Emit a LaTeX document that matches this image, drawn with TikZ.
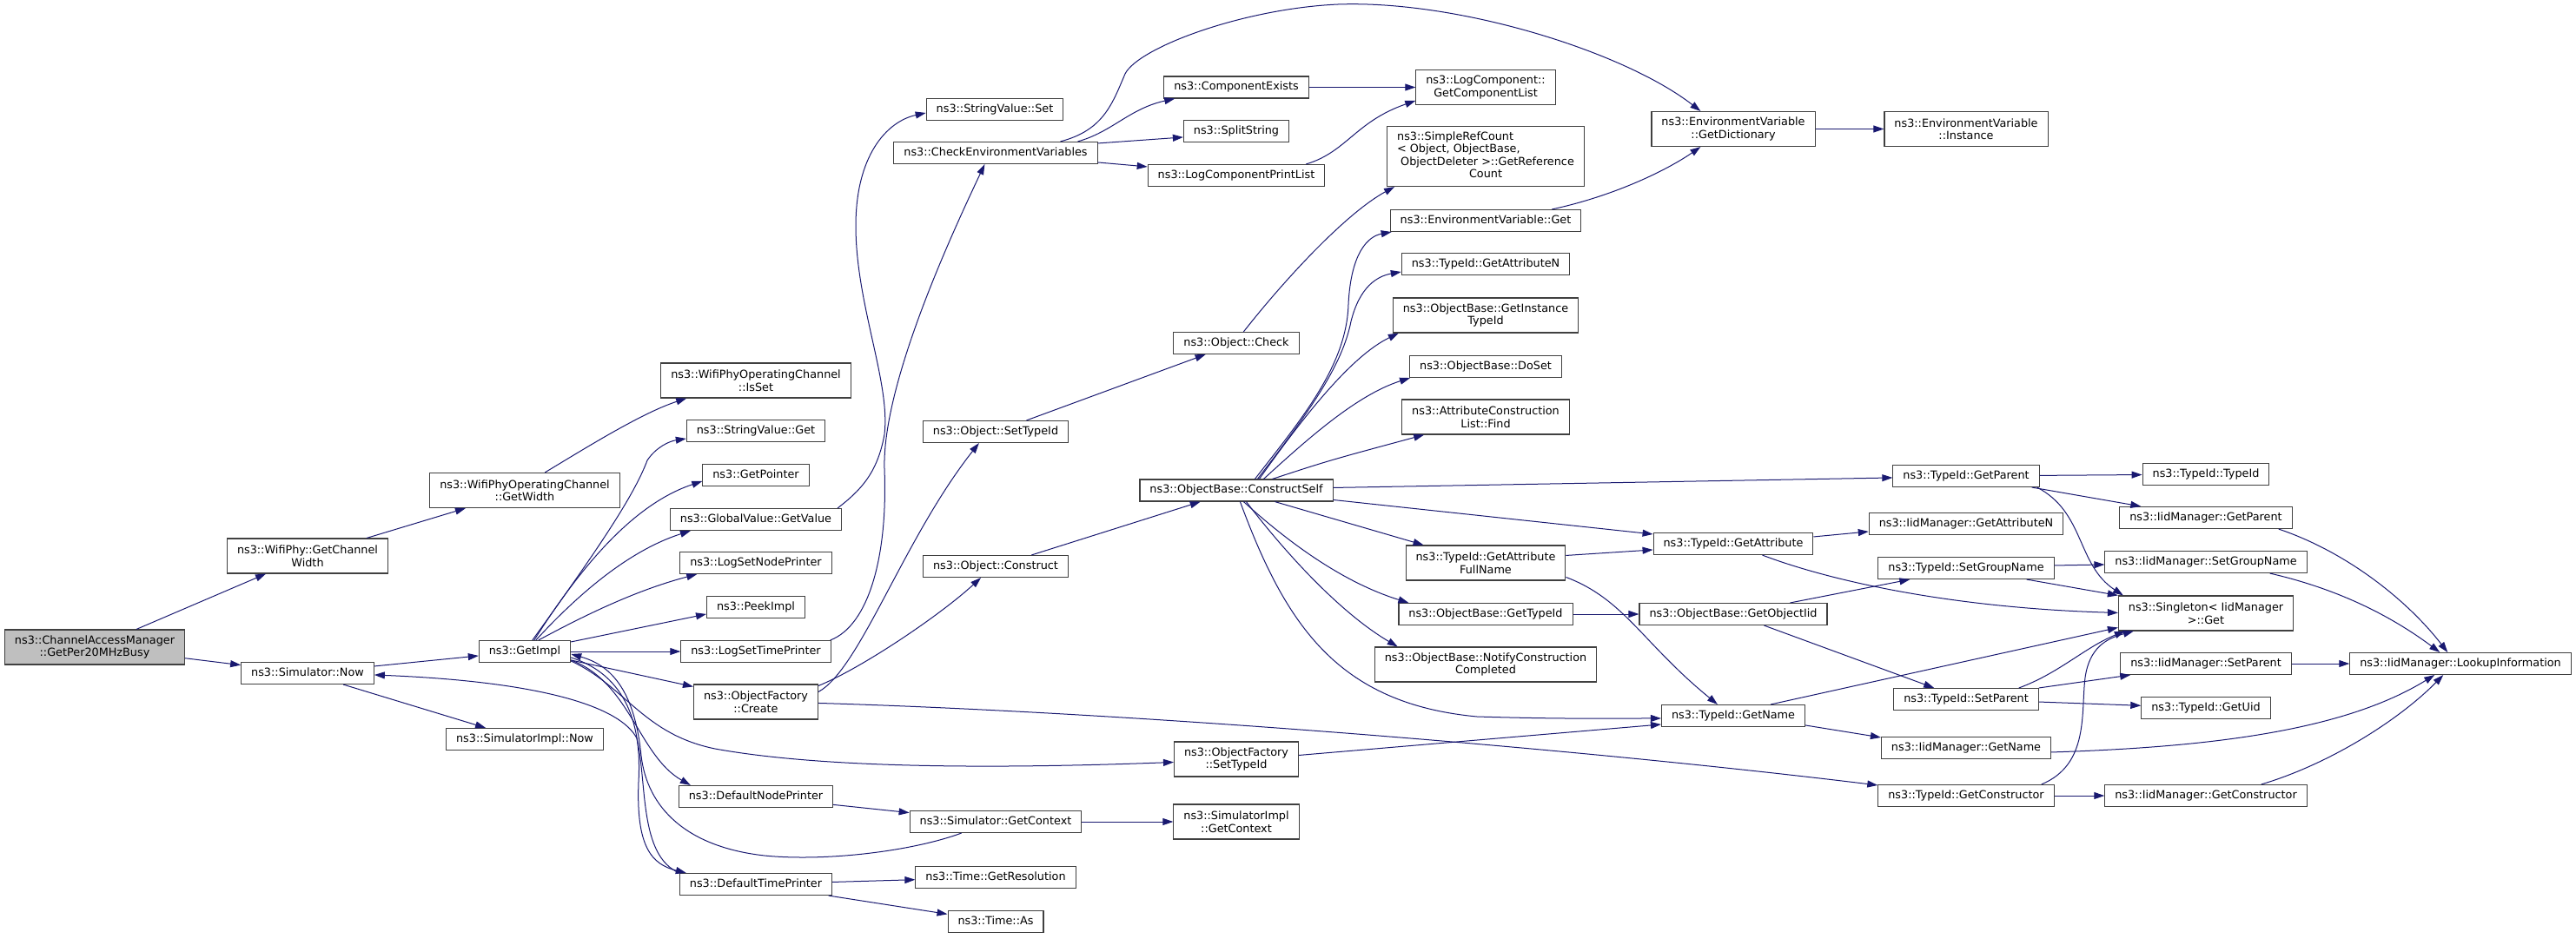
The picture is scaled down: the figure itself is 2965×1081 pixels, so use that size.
\documentclass[tikz,border=0pt]{standalone}
\usepackage{fontspec}
\setsansfont{DejaVu Sans}
\usetikzlibrary{arrows.meta}
\definecolor{callblue}{HTML}{191970}
\definecolor{boxgray}{HTML}{404040}
\definecolor{rootgray}{HTML}{BFBFBF}

\begin{document}
\begin{tikzpicture}[
        x=1pt, y=-1pt,
        func/.style={
                rectangle,
                draw=boxgray,
                fill=white,
                line width=1.1pt,
                font=\sffamily\fontsize{12.8}{14.5}\selectfont,
                text centered,
                inner xsep=11.5pt,
                inner ysep=6.2pt,
                text height=9.6pt,
                text depth=3pt,
            },
        functwo/.style={
                rectangle,
                draw=boxgray,
                fill=white,
                line width=1.1pt,
                font=\sffamily\fontsize{12.8}{14.5}\selectfont,
                align=center,
                inner xsep=11.5pt,
                minimum height=40pt,
            },
        root/.style={functwo, fill=rootgray},
        link/.style={->, color=callblue, line width=1pt},
        >={Triangle[length=12pt,width=8pt]}
    ]
    \useasboundingbox (0,0) rectangle (2965,1081);

    \node[root] (cam) at (109,745) {ns3::ChannelAccessManager\\::GetPer20MHzBusy};
    \node[functwo] (chanwidth) at (354,640) {ns3::WifiPhy::GetChannel\\Width};
    \node[func] (simnow) at (354,775) {ns3::Simulator::Now};
    \node[functwo] (opwidth) at (604,564.5) {ns3::WifiPhyOperatingChannel\\::GetWidth};
    \node[func] (getimpl) at (604,750) {ns3::GetImpl};
    \node[func] (simimplnow) at (604,851) {ns3::SimulatorImpl::Now};
    \node[functwo] (isset) at (870,438) {ns3::WifiPhyOperatingChannel\\::IsSet};
    \node[func] (svget) at (870,496) {ns3::StringValue::Get};
    \node[func] (getptr) at (870,547) {ns3::GetPointer};
    \node[func] (gvget) at (870,598) {ns3::GlobalValue::GetValue};
    \node[func] (lognode) at (870,648) {ns3::LogSetNodePrinter};
    \node[func] (peek) at (870,699) {ns3::PeekImpl};
    \node[func] (logtime) at (870,750) {ns3::LogSetTimePrinter};
    \node[functwo] (ofcreate) at (870,808) {ns3::ObjectFactory\\::Create};
    \node[func] (defnode) at (870,917) {ns3::DefaultNodePrinter};
    \node[func] (deftime) at (870,1018) {ns3::DefaultTimePrinter};
    \node[func] (svset) at (1145,126) {ns3::StringValue::Set};
    \node[func] (checkenv) at (1146,176) {ns3::CheckEnvironmentVariables};
    \node[func] (objsettid) at (1146,497) {ns3::Object::SetTypeId};
    \node[func] (objconstruct) at (1146,652) {ns3::Object::Construct};
    \node[func] (simctx) at (1146,946) {ns3::Simulator::GetContext};
    \node[func] (timeres) at (1146,1010) {ns3::Time::GetResolution};
    \node[func] (timeas) at (1146,1061) {ns3::Time::As};
    \node[func] (compexists) at (1423,100.5) {ns3::ComponentExists};
    \node[func] (split) at (1423,151) {ns3::SplitString};
    \node[func] (logprint) at (1423,202) {ns3::LogComponentPrintList};
    \node[func] (objcheck) at (1423,395) {ns3::Object::Check};
    \node[func] (constructself) at (1423,564.5) {ns3::ObjectBase::ConstructSelf};
    \node[functwo] (ofsettid) at (1423,874) {ns3::ObjectFactory\\::SetTypeId};
    \node[functwo] (simimplctx) at (1423,946) {ns3::SimulatorImpl\\::GetContext};
    \node[functwo] (getcomplist) at (1710,100.5) {ns3::LogComponent::\\GetComponentList};
    \node[functwo, minimum height=69pt] (refcount) at (1710,180) {\begin{tabular}{@{}l@{}}ns3::SimpleRefCount\\< Object, ObjectBase,\\\ ObjectDeleter >::GetReference\\\multicolumn{1}{@{}c@{}}{Count}\end{tabular}};
    \node[func] (envget) at (1710,254) {ns3::EnvironmentVariable::Get};
    \node[func] (getattrn) at (1710,304) {ns3::TypeId::GetAttributeN};
    \node[functwo] (getinst) at (1710,363) {ns3::ObjectBase::GetInstance\\TypeId};
    \node[func] (doset) at (1710,422) {ns3::ObjectBase::DoSet};
    \node[functwo] (acfind) at (1710,480) {ns3::AttributeConstruction\\List::Find};
    \node[functwo] (attrfull) at (1710,648) {ns3::TypeId::GetAttribute\\FullName};
    \node[func] (obgettid) at (1710,707) {ns3::ObjectBase::GetTypeId};
    \node[functwo] (notify) at (1710,765) {ns3::ObjectBase::NotifyConstruction\\Completed};
    \node[functwo] (envdict) at (1995,148.5) {ns3::EnvironmentVariable\\::GetDictionary};
    \node[func] (getattr) at (1995,626) {ns3::TypeId::GetAttribute};
    \node[func] (getoiid) at (1995,707) {ns3::ObjectBase::GetObjectIid};
    \node[func] (getname) at (1995,824) {ns3::TypeId::GetName};
    \node[functwo] (envinst) at (2263,148.5) {ns3::EnvironmentVariable\\::Instance};
    \node[func] (tidparent) at (2263,548) {ns3::TypeId::GetParent};
    \node[func] (iidattrn) at (2263,603) {ns3::IidManager::GetAttributeN};
    \node[func] (tidgroup) at (2263,654) {ns3::TypeId::SetGroupName};
    \node[func] (tidsetparent) at (2263,805) {ns3::TypeId::SetParent};
    \node[func] (iidname) at (2263,861) {ns3::IidManager::GetName};
    \node[func] (tidctor) at (2263,916) {ns3::TypeId::GetConstructor};
    \node[func] (tidtid) at (2539,546) {ns3::TypeId::TypeId};
    \node[func] (iidparent) at (2539,596) {ns3::IidManager::GetParent};
    \node[func] (iidgroup) at (2539,647) {ns3::IidManager::SetGroupName};
    \node[functwo] (singleton) at (2539,706) {ns3::Singleton< IidManager\\ >::Get};
    \node[func] (iidsetparent) at (2539,764) {ns3::IidManager::SetParent};
    \node[func] (getuid) at (2539,815) {ns3::TypeId::GetUid};
    \node[func] (iidctor) at (2539,916) {ns3::IidManager::GetConstructor};
    \node[func] (lookup) at (2832,764) {ns3::IidManager::LookupInformation};

    \path[link] (cam) edge (chanwidth);
    \path[link] (cam) edge (simnow);
    \path[link] (chanwidth) edge (opwidth);
    \draw[link] ([xshift=133pt]opwidth.north west) .. controls (680,512) and (740,475) .. ([xshift=30pt]isset.south west);
    \path[link] ([yshift=-5pt]simnow.north east) edge ([yshift=-18pt]getimpl.north west);
    \path[link] ([xshift=118pt]simnow.south west) edge ([xshift=46pt]simimplnow.north west);
    \draw[link] (deftime.north west) .. controls (735,985) and (745,900) .. (733,850) .. controls (715,815) and (630,785) .. ([yshift=-15pt]simnow.north east);

    \draw[link] ([xshift=62pt]getimpl.north west) .. controls (690,630) and (730,570) .. (745,530) .. controls (755,515) and (770,508) .. ([yshift=-22pt]svget.north west);
    \draw[link] ([xshift=64pt]getimpl.north west) .. controls (670,650) and (730,580) .. ([yshift=-20pt]getptr.north west);
    \draw[link] ([xshift=66pt]getimpl.north west) .. controls (660,690) and (720,635) .. ([xshift=24pt]gvget.south west);
    \draw[link] ([xshift=69pt]getimpl.north west) .. controls (670,710) and (730,680) .. ([xshift=20pt]lognode.south west);
    \path[link] ([yshift=-2pt]getimpl.north east) edge ([yshift=-21pt]peek.north west);
    \path[link] (getimpl) edge (logtime);
    \path[link] ([yshift=-23pt]getimpl.north east) edge ([yshift=-3pt]ofcreate.north west);
    \draw[link] ([yshift=-23pt]getimpl.north east) .. controls (725,785) and (735,870) .. ([xshift=14pt]defnode.north west);
    \draw[link] ([yshift=-20pt]getimpl.north east) .. controls (730,780) and (738,850) .. (735,900) .. controls (732,975) and (750,995) .. ([xshift=8pt]deftime.north west);
    \draw[link] ([yshift=-24pt]getimpl.north east) .. controls (720,790) and (740,845) .. (823,862) .. controls (950,885) and (1150,885) .. ([yshift=-24pt]ofsettid.north west);
    \draw[link] ([xshift=60pt]simctx.south west) .. controls (1050,980) and (950,992) .. (880,985) .. controls (790,975) and (745,930) .. (738,870) .. controls (730,790) and (700,765) .. ([yshift=-16pt]getimpl.north east);

    \path[link] (defnode) edge (simctx);
    \path[link] (simctx) edge (simimplctx);
    \path[link] (deftime) edge (timeres);
    \path[link] (deftime) edge (timeas);
    \draw[link] ([xshift=-5pt]gvget.north east) .. controls (990,565) and (1010,545) .. (1018,500) .. controls (1025,440) and (985,350) .. (985,260) .. controls (985,180) and (1020,140) .. ([yshift=-17pt]svset.north west);
    \draw[link] ([xshift=-1pt]logtime.north east) .. controls (1000,720) and (1022,640) .. (1018,540) .. controls (1015,440) and (1100,260) .. ([xshift=105pt]checkenv.south west);
    \draw[link] ([yshift=-9pt]ofcreate.north east) .. controls (990,770) and (1040,620) .. ([xshift=65pt]objsettid.south west);
    \draw[link] ([yshift=-2pt]ofcreate.north east) .. controls (990,770) and (1080,710) .. ([xshift=67pt]objconstruct.south west);
    \draw[link] ([yshift=-22pt]ofcreate.north east) .. controls (1300,820) and (1800,860) .. ([yshift=-1pt]tidctor.north west);

    \path[link] (objsettid) edge (objcheck);
    \draw[link] ([xshift=81pt]objcheck.north west) .. controls (1480,320) and (1550,245) .. ([xshift=9pt]refcount.south west);
    \path[link] (objconstruct) edge (constructself);
    \draw[link] ([xshift=192pt]checkenv.north west) .. controls (1270,150) and (1280,120) .. (1295,85) .. controls (1310,55) and (1430,10) .. (1540,5) .. controls (1680,0) and (1870,60) .. ([xshift=57pt]envdict.north west);
    \draw[link] ([xshift=212pt]checkenv.north west) .. controls (1280,152) and (1300,125) .. ([xshift=13pt]compexists.south west);
    \path[link] ([yshift=-2pt]checkenv.north east) edge ([yshift=-20pt]split.north west);
    \path[link] ([yshift=-24pt]checkenv.north east) edge ([yshift=-3pt]logprint.north west);
    \path[link] (compexists) edge (getcomplist);
    \draw[link] ([xshift=-22pt]logprint.north east) .. controls (1550,175) and (1560,140) .. ([yshift=-36pt]getcomplist.north west);
    \path[link] (envdict) edge (envinst);
    \draw[link] ([xshift=-34pt]envget.north east) .. controls (1860,225) and (1920,195) .. ([xshift=57pt]envdict.south west);

    \draw[link] ([xshift=133pt]constructself.north west) .. controls (1500,480) and (1550,420) .. (1552,350) .. controls (1555,290) and (1575,272) .. ([xshift=2pt]envget.south west);
    \draw[link] ([xshift=136pt]constructself.north west) .. controls (1510,470) and (1545,420) .. (1555,370) .. controls (1565,330) and (1585,318) .. ([yshift=-22pt]getattrn.north west);
    \draw[link] ([xshift=138pt]constructself.north west) .. controls (1500,480) and (1555,410) .. ([xshift=7pt]getinst.south west);
    \draw[link] ([xshift=143pt]constructself.north west) .. controls (1500,510) and (1560,455) .. ([xshift=1pt]doset.south west);
    \draw[link] ([xshift=153pt]constructself.north west) .. controls (1530,530) .. ([xshift=26pt]acfind.south west);
    \path[link] ([yshift=-10pt]constructself.north east) edge ([yshift=-15pt]tidparent.north west);
    \path[link] ([yshift=-24pt]constructself.north east) edge ([yshift=-2pt]getattr.north west);
    \path[link] ([xshift=156pt]constructself.south west) edge ([xshift=21pt]attrfull.north west);
    \draw[link] ([xshift=120pt]constructself.south west) .. controls (1500,640) and (1560,675) .. ([xshift=12pt]obgettid.north west);
    \draw[link] ([xshift=123pt]constructself.south west) .. controls (1490,650) and (1550,710) .. ([xshift=27pt]notify.north west);
    \draw[link] ([xshift=116pt]constructself.south west) .. controls (1480,720) and (1540,810) .. (1700,825) .. controls (1800,828) and (1860,827) .. ([yshift=-16pt]getname.north west);

    \path[link] ([yshift=-12pt]attrfull.north east) edge ([yshift=-20pt]getattr.north west);
    \draw[link] ([yshift=-37pt]attrfull.north east) .. controls (1870,690) and (1890,740) .. ([xshift=65pt]getname.north west);
    \path[link] (obgettid) edge (getoiid);
    \path[link] ([yshift=-16pt]ofsettid.north east) edge ([yshift=-23pt]getname.north west);
    \path[link] ([xshift=174pt]getoiid.north west) edge ([xshift=37pt]tidgroup.south west);
    \path[link] ([xshift=144pt]getoiid.south west) edge ([xshift=47pt]tidsetparent.north west);
    \path[link] ([yshift=-5pt]getattr.north east) edge ([yshift=-22pt]iidattrn.north west);
    \draw[link] ([xshift=-59pt]getattr.south east) .. controls (2110,670) and (2250,700) .. ([yshift=-20pt]singleton.north west);
    \path[link] ([xshift=-40pt]getname.north east) edge ([yshift=-37pt]singleton.north west);
    \path[link] ([yshift=-24pt]getname.north east) edge ([yshift=-1pt]iidname.north west);

    \path[link] (tidparent) edge (tidtid);
    \path[link] ([xshift=-9pt]tidparent.south east) edge ([xshift=25pt]iidparent.north west);
    \draw[link] ([xshift=-3pt]tidparent.south east) .. controls (2400,590) and (2390,650) .. ([xshift=6pt]singleton.north west);
    \path[link] ([yshift=-10pt]tidgroup.north east) edge ([yshift=-16pt]iidgroup.north west);
    \path[link] ([xshift=-32pt]tidgroup.south east) edge (singleton.north west);
    \draw[link] ([xshift=-23pt]tidsetparent.north east) .. controls (2370,775) and (2400,745) .. ([xshift=8pt]singleton.south west);
    \path[link] (tidsetparent.north east) edge ([xshift=12pt]iidsetparent.south west);
    \path[link] (tidsetparent) edge (getuid);
    \draw[link] ([xshift=-15pt]tidctor.north east) .. controls (2405,880) and (2395,820) .. (2400,780) .. controls (2405,745) and (2425,735) .. ([xshift=18pt]singleton.south west);
    \path[link] (tidctor) edge (iidctor);

    \draw[link] ([xshift=-16pt]iidparent.south east) .. controls (2700,635) and (2770,690) .. ([xshift=113pt]lookup.north west);
    \draw[link] ([xshift=-43pt]iidgroup.south east) .. controls (2700,680) and (2760,715) .. ([xshift=104pt]lookup.north west);
    \path[link] (iidsetparent) edge (lookup);
    \draw[link] ([yshift=-18pt]iidname.north east) .. controls (2550,860) and (2700,840) .. ([xshift=98pt]lookup.south west);
    \draw[link] ([xshift=-53pt]iidctor.north east) .. controls (2680,880) and (2760,830) .. ([xshift=108pt]lookup.south west);
\end{tikzpicture}
\end{document}
